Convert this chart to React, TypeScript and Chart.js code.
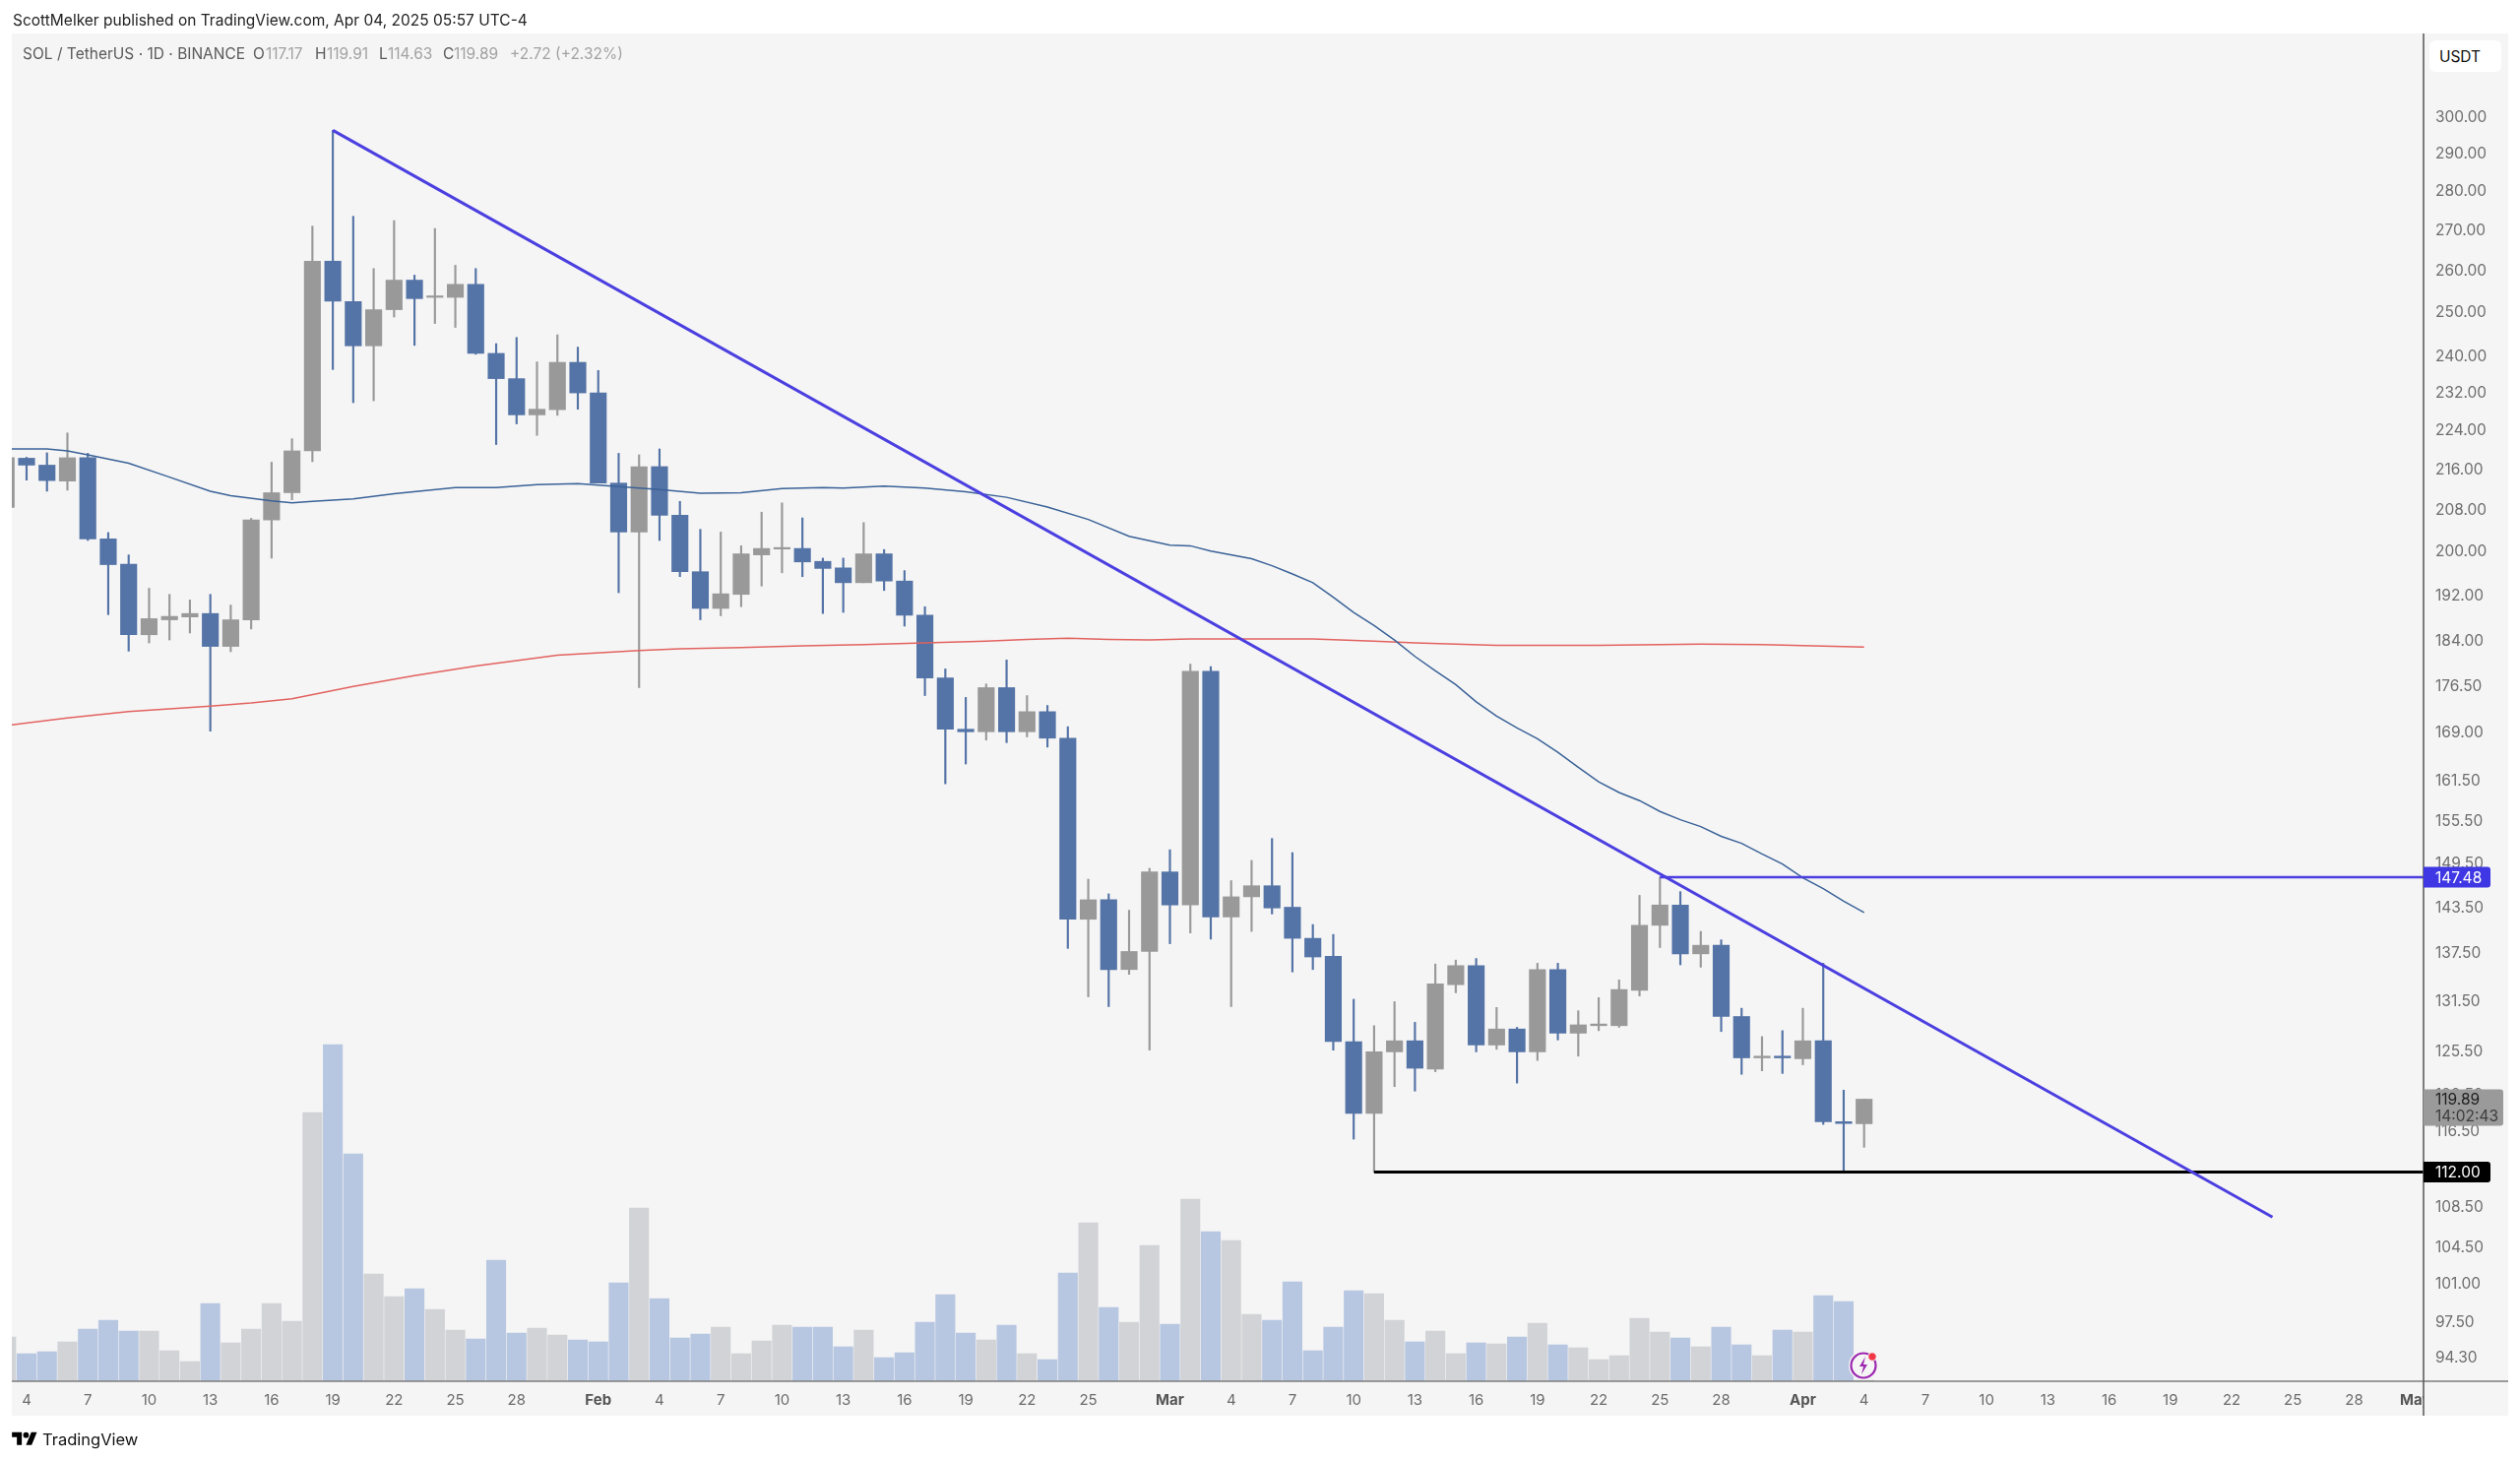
import { useEffect, useRef } from 'react';
import { Chart, registerables } from 'chart.js';
import type { Plugin } from 'chart.js';

Chart.register(...registerables);

// values, first candle is Jan 3 2025 (day -1, day 0 = Jan 4)
const firstDay = -1;
const opens = [208.2, 218.0, 216.6, 213.4, 218.1, 202.2, 197.5, 184.9, 187.5, 188.0, 188.6, 182.9, 187.5, 205.8, 211.1, 219.5, 262.0, 252.3, 242.1, 250.4, 257.4, 253.3, 253.3, 256.4, 240.4, 234.8, 227.0, 228.1, 238.4, 231.7, 213.0, 203.5, 216.3, 206.7, 196.1, 189.5, 192.0, 199.2, 200.3, 200.4, 198.0, 196.8, 194.1, 199.4, 194.4, 188.3, 177.6, 169.3, 168.9, 176.0, 168.9, 172.1, 167.9, 141.8, 144.4, 135.3, 137.6, 148.2, 143.7, 178.7, 142.1, 144.8, 146.3, 143.4, 139.3, 137.0, 126.5, 118.3, 125.3, 126.6, 123.3, 133.4, 135.8, 126.1, 128.0, 125.3, 135.3, 127.5, 128.4, 128.4, 132.7, 141.0, 143.7, 137.3, 138.4, 129.5, 124.6, 124.8, 124.5, 126.6, 117.4, 117.17];
const highs = [218.1, 218.2, 219.1, 223.2, 219.0, 203.4, 199.2, 193.1, 192.0, 191.0, 192.0, 190.1, 206.1, 217.2, 222.0, 270.7, 296.0, 273.2, 260.2, 272.1, 258.6, 270.1, 261.0, 260.2, 242.6, 244.0, 238.5, 244.6, 241.8, 236.6, 219.0, 218.7, 219.9, 209.4, 204.0, 203.5, 200.9, 207.3, 209.1, 206.2, 198.6, 198.6, 205.3, 200.2, 196.3, 189.8, 179.1, 174.4, 176.6, 180.6, 174.7, 173.1, 169.7, 147.2, 145.2, 143.0, 148.7, 151.3, 179.9, 179.5, 147.0, 149.8, 152.9, 150.9, 141.1, 139.8, 131.6, 128.4, 131.3, 128.8, 136.0, 136.5, 136.7, 130.6, 128.2, 136.1, 136.1, 130.2, 131.8, 134.0, 145.0, 147.48, 145.5, 140.2, 139.1, 130.5, 127.1, 127.8, 130.5, 136.1, 120.9, 119.91];
const lows = [208.2, 213.6, 211.4, 211.6, 201.9, 188.4, 182.1, 183.5, 184.0, 185.2, 169.0, 182.0, 185.9, 198.6, 209.7, 217.3, 236.8, 229.6, 230.0, 248.7, 242.2, 247.2, 246.3, 240.2, 220.8, 225.1, 222.7, 226.9, 228.2, 213.0, 192.3, 176.0, 201.9, 195.2, 187.5, 188.2, 189.8, 193.5, 195.9, 195.2, 188.6, 188.8, 194.1, 192.7, 186.4, 174.7, 160.9, 163.9, 167.6, 167.2, 168.1, 166.5, 138.0, 131.9, 130.7, 134.7, 125.5, 138.6, 140.0, 139.2, 130.7, 140.2, 142.5, 135.0, 135.3, 125.5, 115.5, 112.0, 121.3, 120.8, 123.0, 132.4, 125.3, 125.6, 121.7, 124.3, 126.7, 124.8, 127.8, 128.2, 132.0, 138.1, 135.9, 135.6, 127.7, 122.7, 123.1, 122.8, 123.8, 117.1, 112.1, 114.63];
const closes = [218.1, 216.6, 213.5, 218.1, 202.2, 197.4, 184.9, 187.7, 188.1, 188.6, 182.9, 187.5, 205.8, 211.1, 219.5, 262.0, 252.4, 242.1, 250.4, 257.4, 253.0, 253.6, 256.4, 240.4, 234.8, 227.0, 228.2, 238.4, 231.7, 213.0, 203.5, 216.3, 206.7, 196.1, 189.5, 192.1, 199.4, 200.4, 200.5, 197.9, 196.7, 194.1, 199.4, 194.4, 188.3, 177.6, 169.3, 168.9, 176.0, 168.9, 172.1, 167.9, 141.8, 144.4, 135.3, 137.6, 148.2, 143.7, 178.7, 142.1, 144.8, 146.3, 143.3, 139.3, 136.9, 126.5, 118.3, 125.3, 126.6, 123.4, 133.5, 135.8, 126.1, 128.0, 125.3, 135.3, 127.5, 128.5, 128.6, 132.8, 141.0, 143.7, 137.3, 138.4, 129.5, 124.6, 124.8, 124.6, 126.6, 117.4, 117.2, 119.89];
const volumes = [4.5, 2.8, 3.0, 4.0, 5.3, 6.2, 5.1, 5.1, 3.1, 2.0, 7.9, 3.9, 5.3, 7.9, 6.1, 27.3, 34.2, 23.1, 10.9, 8.6, 9.4, 7.3, 5.2, 4.3, 12.3, 4.9, 5.4, 4.7, 4.2, 4.0, 10.0, 17.6, 8.4, 4.4, 4.8, 5.5, 2.8, 4.1, 5.7, 5.5, 5.5, 3.5, 5.2, 2.4, 2.9, 6.0, 8.8, 4.9, 4.2, 5.7, 2.8, 2.2, 11.0, 16.1, 7.5, 6.0, 13.8, 5.8, 18.5, 15.2, 14.3, 6.8, 6.2, 10.1, 3.1, 5.5, 9.2, 8.9, 6.2, 4.0, 5.1, 2.8, 3.9, 3.8, 4.5, 5.9, 3.7, 3.4, 2.2, 2.6, 6.4, 5.0, 4.4, 3.5, 5.5, 3.7, 2.6, 5.2, 5.0, 8.7, 8.1, 0.1];

const ma50Days = [-1, 1, 2, 3, 5, 7, 9, 10, 12, 13, 14, 16, 18, 21, 23, 25, 27, 29, 31, 33, 35, 37, 39, 40, 42, 44, 46, 48, 50, 52, 54, 56, 57, 58, 60, 61, 62, 63, 64, 65, 66, 67, 68, 69, 70, 71, 72, 73, 74, 75, 76, 77, 78, 79, 80, 81, 82, 83, 84, 85, 86, 87, 88, 89, 90];
const ma50Values = [219.9, 219.9, 219.5, 218.7, 217.0, 214.2, 211.4, 210.5, 209.5, 209.1, 209.4, 209.9, 210.9, 212.1, 212.1, 212.7, 212.9, 212.3, 211.7, 211.0, 211.1, 211.9, 212.1, 212.0, 212.4, 212.0, 211.3, 210.2, 208.3, 205.9, 202.7, 201.0, 200.9, 199.9, 198.5, 197.2, 195.7, 194.1, 191.5, 188.8, 186.5, 184.0, 181.2, 178.8, 176.5, 173.7, 171.4, 169.5, 167.8, 165.7, 163.4, 161.2, 159.6, 158.4, 156.8, 155.6, 154.6, 153.2, 152.2, 150.7, 149.3, 147.4, 145.9, 144.2, 142.7];
const ma200Days = [-1, 2, 5, 9, 11, 13, 16, 19, 22, 26, 30, 32, 35, 38, 41, 44, 47, 49, 51, 53, 55, 57, 60, 63, 66, 68, 72, 77, 82, 85, 90];
const ma200Values = [169.9, 171.1, 172.1, 173.0, 173.5, 174.2, 176.2, 178.0, 179.6, 181.4, 182.2, 182.5, 182.7, 183.0, 183.2, 183.5, 183.8, 184.1, 184.3, 184.1, 184.0, 184.2, 184.2, 184.2, 183.8, 183.5, 183.1, 183.1, 183.3, 183.2, 182.8];

const trendDays = [15, 110];
const trendValues = [296, 107.4];
const resistance = 147.48;
const resistanceStart = 80;
const support = 112;
const supportStart = 66;

const priceTicks = [300, 290, 280, 270, 260, 250, 240, 232, 224, 216, 208, 200, 192, 184, 176.5, 169, 161.5, 155.5, 149.5, 143.5, 137.5, 131.5, 125.5, 120.5, 116.5, 108.5, 104.5, 101, 97.5, 94.3];
const timeTickDays = [0, 3, 6, 9, 12, 15, 18, 21, 24, 28, 31, 34, 37, 40, 43, 46, 49, 52, 56, 59, 62, 65, 68, 71, 74, 77, 80, 83, 87, 90, 93, 96, 99, 102, 105, 108, 111, 114, 117];
const timeTickLabels = ['4', '7', '10', '13', '16', '19', '22', '25', '28', 'Feb', '4', '7', '10', '13', '16', '19', '22', '25', 'Mar', '4', '7', '10', '13', '16', '19', '22', '25', '28', 'Apr', '4', '7', '10', '13', '16', '19', '22', '25', '28', 'May'];

const lastClose = 119.89;
const countdown = '14:02:43';
const legendParts = [
  { left: 257, text: 'O', color: '#5a5a5a' },
  { left: 270, text: '117.17', color: '#a2a2a2' },
  { left: 320, text: 'H', color: '#5a5a5a' },
  { left: 332, text: '119.91', color: '#a2a2a2' },
  { left: 385, text: 'L', color: '#5a5a5a' },
  { left: 394, text: '114.63', color: '#a2a2a2' },
  { left: 450, text: 'C', color: '#5a5a5a' },
  { left: 461, text: '119.89', color: '#a2a2a2' },
  { left: 518, text: '+2.72 (+2.32%)', color: '#a2a2a2' },
];

const BLUE = '#5473a6';
const GRAY = '#999999';
const BLUE_VOL = '#b8c7e1';
const GRAY_VOL = '#d1d3d6';
const INDIGO = '#4b3fe0';
const FONT = 'Inter, "Noto Sans", sans-serif';

const isUp = (i: number) => closes[i] >= opens[i];
const dayOf = (i: number) => firstDay + i;

function roundTag(ctx: CanvasRenderingContext2D, x: number, y: number, w: number, h: number, color: string) {
  ctx.fillStyle = color;
  ctx.beginPath();
  ctx.roundRect(x, y, w, h, [0, 3, 3, 0]);
  ctx.fill();
}

const axisDecor: Plugin<'bar'> = {
  id: 'axisDecor',
  afterDraw(chart) {
    const { ctx, chartArea, scales } = chart;
    const right = chartArea.right;
    const y = scales.y;
    ctx.save();
    // May label is cut by the price axis
    ctx.fillStyle = '#f5f5f5';
    ctx.fillRect(right, chartArea.bottom + 1, 20, 34);
    ctx.strokeStyle = '#7c7c7c';
    ctx.lineWidth = 1.5;
    ctx.beginPath();
    ctx.moveTo(12, chartArea.bottom);
    ctx.lineTo(2548, chartArea.bottom);
    ctx.stroke();
    ctx.strokeStyle = '#555555';
    ctx.beginPath();
    ctx.moveTo(right, 34);
    ctx.lineTo(right, 1438);
    ctx.stroke();

    ctx.font = `15.5px ${FONT}`;
    ctx.textBaseline = 'middle';
    ctx.textAlign = 'left';
    const closeY = y.getPixelForValue(lastClose);
    roundTag(ctx, right, closeY - 10, 81, 37, '#9a9a9a');
    ctx.fillStyle = '#1f1f1f';
    ctx.fillText(lastClose.toFixed(2), right + 12, closeY + 1);
    ctx.fillStyle = '#3c3c3c';
    ctx.fillText(countdown, right + 12, closeY + 18);

    const resY = y.getPixelForValue(resistance);
    roundTag(ctx, right, resY - 10.5, 68, 21, '#3f37e3');
    ctx.fillStyle = '#ffffff';
    ctx.fillText(resistance.toFixed(2), right + 12, resY + 1);

    const supY = y.getPixelForValue(support);
    roundTag(ctx, right, supY - 10.5, 68, 21, '#000000');
    ctx.fillStyle = '#ffffff';
    ctx.fillText(support.toFixed(2), right + 12, supY + 1);
    ctx.restore();
  },
};

export default function App() {
  const canvasRef = useRef<HTMLCanvasElement | null>(null);

  useEffect(() => {
    if (!canvasRef.current) {
      return;
    }

    const xMax = 117.4;
    const chart = new Chart(canvasRef.current, {
      type: 'bar',
      data: {
        datasets: [
          {
            type: 'line',
            label: 'Trend',
            data: trendDays.map((d, i) => ({ x: d, y: trendValues[i] })),
            borderColor: INDIGO,
            borderWidth: 3,
            pointRadius: 0,
            order: 1,
          },
          {
            type: 'line',
            label: 'Resistance',
            data: [
              { x: resistanceStart, y: resistance },
              { x: xMax, y: resistance },
            ],
            borderColor: INDIGO,
            borderWidth: 2.5,
            pointRadius: 0,
            order: 1,
          },
          {
            type: 'line',
            label: 'Support',
            data: [
              { x: supportStart, y: support },
              { x: xMax, y: support },
            ],
            borderColor: '#000000',
            borderWidth: 3,
            pointRadius: 0,
            order: 1,
          },
          {
            type: 'line',
            label: 'MA 50',
            data: ma50Days.map((d, i) => ({ x: d, y: ma50Values[i] })),
            borderColor: '#3a6298',
            borderWidth: 1.5,
            pointRadius: 0,
            order: 2,
          },
          {
            type: 'line',
            label: 'MA 200',
            data: ma200Days.map((d, i) => ({ x: d, y: ma200Values[i] })),
            borderColor: '#e2625f',
            borderWidth: 1.5,
            pointRadius: 0,
            order: 2,
          },
          {
            label: 'Body',
            data: opens.map((o, i) => ({ x: dayOf(i), y: [o, closes[i]] })) as any,
            backgroundColor: opens.map((_, i) => (isUp(i) ? GRAY : BLUE)),
            barThickness: 16.5,
            grouped: false,
            minBarLength: 1.5,
            order: 3,
          },
          {
            label: 'Wick',
            data: highs.map((h, i) => ({ x: dayOf(i), y: [lows[i], h] })) as any,
            backgroundColor: opens.map((_, i) => (isUp(i) ? GRAY : BLUE)),
            barThickness: 1.5,
            grouped: false,
            order: 4,
          },
          {
            label: 'Volume',
            data: volumes.map((v, i) => ({ x: dayOf(i), y: v })) as any,
            backgroundColor: opens.map((_, i) => (isUp(i) ? GRAY_VOL : BLUE_VOL)),
            barThickness: 19.5,
            grouped: false,
            yAxisID: 'yVol',
            order: 5,
          },
        ],
      },
      options: {
        responsive: false,
        animation: false,
        devicePixelRatio: 1,
        layout: { autoPadding: false, padding: { top: 34, left: 12 } },
        plugins: { legend: { display: false }, tooltip: { enabled: false } },
        scales: {
          x: {
            type: 'linear',
            offset: false,
            min: -0.723,
            max: xMax,
            grid: { display: false, drawTicks: false, offset: false },
            border: { display: false },
            afterBuildTicks: (scale) => {
              scale.ticks = timeTickDays.map((value) => ({ value }));
            },
            afterFit: (scale) => {
              scale.height = 81;
            },
            ticks: {
              autoSkip: false,
              maxRotation: 0,
              padding: 10,
              color: (ctx) => (ctx.index !== undefined && /[a-z]/i.test(timeTickLabels[ctx.index]) ? '#555555' : '#6b6b6b'),
              font: (ctx) => ({
                family: FONT,
                size: 15,
                weight: ctx.index !== undefined && /[a-z]/i.test(timeTickLabels[ctx.index]) ? 'bold' : 'normal',
              }),
              callback: (_v, i) => timeTickLabels[i],
            },
          },
          y: {
            type: 'logarithmic',
            position: 'right',
            min: 92.15,
            max: 324,
            grid: { display: false, drawTicks: false },
            border: { display: false },
            afterBuildTicks: (scale) => {
              scale.ticks = priceTicks.map((value) => ({ value }));
            },
            afterFit: (scale) => {
              scale.width = 98;
            },
            ticks: {
              autoSkip: false,
              padding: 12,
              labelOffset: 1.5,
              color: '#6e6e6e',
              font: { family: FONT, size: 15.5 },
              callback: (v) => Number(v).toFixed(2),
            },
          },
          yVol: {
            type: 'linear',
            display: false,
            min: 0,
            max: 136.9,
          },
        },
      },
      plugins: [axisDecor],
    });

    return () => {
      chart.destroy();
    };
  }, []);

  const text = { position: 'absolute', fontFamily: FONT, whiteSpace: 'nowrap' } as const;

  return (
    <div style={{ position: 'absolute', left: 0, top: 0, width: 2560, height: 1484, background: '#ffffff', overflow: 'hidden' }}>
      <div style={{ position: 'absolute', left: 12, top: 34, width: 2536, height: 1404, background: '#f5f5f5' }} />
      <canvas ref={canvasRef} width={2560} height={1484} style={{ position: 'absolute', left: 0, top: 0 }} />

      <div style={{ ...text, left: 13, top: 11, fontSize: 15.5, lineHeight: '20px', color: '#222222' }}>
        ScottMelker published on TradingView.com, Apr 04, 2025 05:57 UTC-4
      </div>
      <div style={{ ...text, left: 23, top: 45, fontSize: 15.5, lineHeight: '20px', color: '#5a5a5a' }}>
        SOL / TetherUS · 1D · BINANCE
      </div>
      {legendParts.map((p) => (
        <div key={p.left} style={{ ...text, left: p.left, top: 45, fontSize: 15.5, lineHeight: '20px', color: p.color }}>
          {p.text}
        </div>
      ))}

      <div
        style={{
          ...text,
          left: 2468,
          top: 41,
          width: 62,
          height: 32,
          paddingRight: 11,
          borderRadius: 6,
          background: '#ffffff',
          color: '#111111',
          fontSize: 15.5,
          lineHeight: '33px',
          textAlign: 'center',
        }}
      >
        USDT
      </div>

      <svg width={36} height={28} viewBox="0 0 36 28" style={{ position: 'absolute', left: 12, top: 1452, width: 26, height: 20 }}>
        <path d="M14 22H7V11H0V4h14v18zM28 22h-8l7.5-18h8L28 22z" fill="#000000" />
        <circle cx={20} cy={8} r={4} fill="#000000" />
      </svg>
      <div style={{ ...text, left: 43, top: 1451, fontSize: 16.5, lineHeight: '22px', color: '#111111' }}>TradingView</div>

      <svg width={36} height={36} viewBox="0 0 36 36" style={{ position: 'absolute', left: 1875, top: 1369 }}>
        <circle cx={18} cy={18} r={15} fill="#f5f5f5" />
        <circle cx={18} cy={18} r={12.5} fill="none" stroke="#9c27b0" strokeWidth={2.2} />
        <path d="M20 9l-6 10h4l-2 8 6-10h-4z" fill="#9c27b0" />
        <circle cx={27} cy={9} r={4.2} fill="#f23645" stroke="#f5f5f5" strokeWidth={1} />
      </svg>
    </div>
  );
}
